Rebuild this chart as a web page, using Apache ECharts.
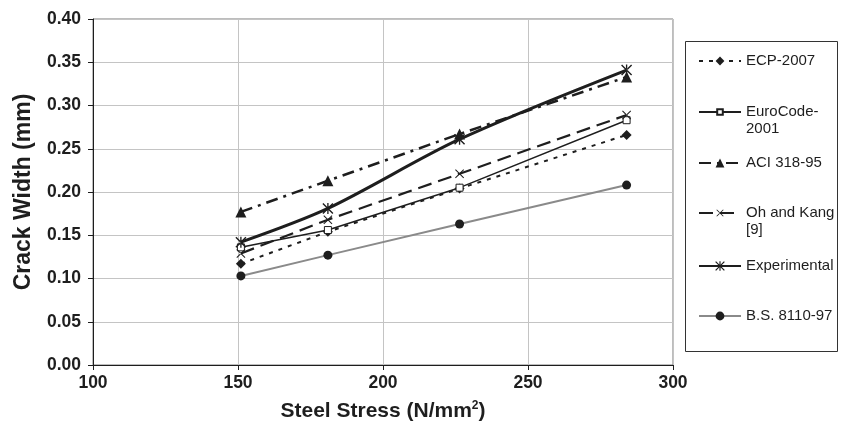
<!DOCTYPE html>
<html>
<head>
<meta charset="utf-8">
<script src="https://cdn.jsdelivr.net/npm/echarts@6/dist/echarts.min.js"></script>
<style>
  html, body { margin: 0; padding: 0; background: #fff; }
  #chart { width: 842px; height: 432px; }
</style>
</head>
<body>
<div id="chart"></div>
<script>
// steel stress (N/mm2) of the four load stages
var stress = [151, 181, 226.4, 284];
// crack width (mm) per method
var ecp2007 = [0.117, 0.154, 0.204, 0.266];
var euroCode = [0.136, 0.156, 0.205, 0.283];
var aci318 = [0.177, 0.213, 0.267, 0.333];
var ohKang = [0.129, 0.168, 0.221, 0.289];
var experimental = [0.142, 0.181, 0.261, 0.341];
var bs8110 = [0.103, 0.127, 0.163, 0.208];
var seriesNames = ['ECP-2007', 'EuroCode-\n2001', 'ACI 318-95', 'Oh and Kang\n[9]', 'Experimental', 'B.S. 8110-97'];
var xTicks = [100, 150, 200, 250, 300];

var FONT = '"Liberation Sans", Arial, sans-serif';
var INK = '#1e1e1e';

// asterisk and x markers built from thin bars
var starPath = 'path://M4.4 0L5.6 0L5.6 10L4.4 10Z M0 0.9L0.9 0L10 9.1L9.1 10Z M10 0.9L9.1 0L0 9.1L0.9 10Z';
var crossPath = 'path://M0 0.8L0.8 0L10 9.2L9.2 10Z M10 0.8L9.2 0L0 9.2L0.8 10Z';

function pairs(ys) {
  return stress.map(function (x, i) { return [x, ys[i]]; });
}

var chart = echarts.init(document.getElementById('chart'), null, { renderer: 'canvas' });

// one legend per entry so each row sits where it does in the original box
var LH = 17;
var legendCenters = [61, 112, 163, 213, 266, 316];
var legendIconH = [11, 7, 11, 9, 12, 11];
var legends = seriesNames.map(function (name, i) {
  var twoLine = name.indexOf('\n') >= 0;
  var h = legendIconH[i];
  var offset = twoLine ? LH * 1.5 : Math.max(h / 2, LH / 2);
  return {
    data: [name],
    orient: 'vertical',
    left: 698,
    top: legendCenters[i] - offset,
    padding: 0,
    itemWidth: 42,
    itemHeight: h,
    selectedMode: false,
    formatter: function (n) { return twoLine ? '\n' + n : n; },
    textStyle: { fontFamily: FONT, fontSize: 15, color: INK, lineHeight: LH }
  };
});

var option = {
  animation: false,
  textStyle: { fontFamily: FONT },
  graphic: [{
    type: 'rect',
    z: 0,
    shape: { x: 685.5, y: 41.5, width: 152, height: 310 },
    style: { fill: '#fff', stroke: '#333', lineWidth: 1 }
  }],
  legend: legends,
  grid: {
    left: 93, right: 169, top: 19, bottom: 67,
    show: true, borderColor: '#7a7a7a', borderWidth: 1
  },
  xAxis: {
    type: 'value',
    min: xTicks[0], max: xTicks[xTicks.length - 1], interval: 50,
    name: 'Steel Stress (N/mm{sup|2})',
    nameLocation: 'middle',
    nameGap: 35,
    nameTextStyle: {
      fontFamily: FONT, fontSize: 21, fontWeight: 'bold', color: INK,
      rich: { sup: { fontSize: 12, fontWeight: 'bold', color: INK, padding: [0, 0, 10, 0] } }
    },
    axisLine: { lineStyle: { color: INK, width: 1 } },
    axisTick: { show: true, length: 5, lineStyle: { color: INK } },
    axisLabel: { fontFamily: FONT, fontSize: 17.5, fontWeight: 'bold', color: INK, margin: 9 },
    splitLine: { show: true, lineStyle: { color: '#c4c4c4', width: 1 } }
  },
  yAxis: {
    type: 'value',
    min: 0, max: 0.4, interval: 0.05,
    name: 'Crack Width (mm)',
    nameLocation: 'middle',
    nameGap: 58,
    nameTextStyle: { fontFamily: FONT, fontSize: 23, fontWeight: 'bold', color: INK },
    axisLine: { show: true, lineStyle: { color: INK, width: 1 } },
    axisTick: { show: true, length: 5, lineStyle: { color: INK } },
    axisLabel: {
      fontFamily: FONT, fontSize: 17.5, fontWeight: 'bold', color: INK, margin: 12,
      formatter: function (v) { return v.toFixed(2); }
    },
    splitLine: { show: true, lineStyle: { color: '#c4c4c4', width: 1 } }
  },
  series: [
    {
      name: seriesNames[0], type: 'line', data: pairs(ecp2007),
      symbol: 'diamond', symbolSize: 10,
      lineStyle: { color: INK, width: 2, type: [4, 6] },
      itemStyle: { color: INK }
    },
    {
      name: seriesNames[1], type: 'line', data: pairs(euroCode),
      symbol: 'rect', symbolSize: 7,
      lineStyle: { color: INK, width: 1.5 },
      itemStyle: { color: '#fff', borderColor: INK, borderWidth: 1 }
    },
    {
      name: seriesNames[2], type: 'line', data: pairs(aci318),
      symbol: 'triangle', symbolSize: 11,
      lineStyle: { color: INK, width: 2.5, type: [12, 6, 3, 6] },
      itemStyle: { color: INK }
    },
    {
      name: seriesNames[3], type: 'line', data: pairs(ohKang),
      symbol: crossPath, symbolSize: 9,
      lineStyle: { color: INK, width: 2.2, type: [14, 7] },
      itemStyle: { color: INK }
    },
    {
      name: seriesNames[4], type: 'line', data: pairs(experimental),
      symbol: starPath, symbolSize: 11, smooth: 0.3,
      lineStyle: { color: INK, width: 3 },
      itemStyle: { color: INK }
    },
    {
      name: seriesNames[5], type: 'line', data: pairs(bs8110),
      symbol: 'circle', symbolSize: 9,
      lineStyle: { color: '#8a8a8a', width: 2 },
      itemStyle: { color: INK }
    }
  ]
};

chart.setOption(option);
</script>
</body>
</html>
